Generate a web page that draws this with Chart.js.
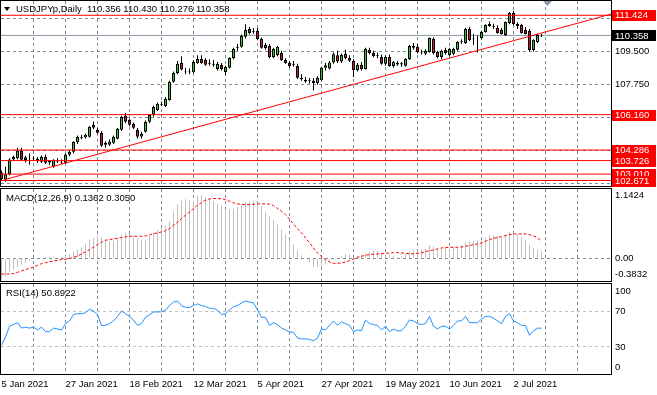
<!DOCTYPE html>
<html>
<head>
<meta charset="utf-8">
<title>USDJPYp, Daily</title>
<script src="https://cdn.jsdelivr.net/npm/chart.js@4.4.1/dist/chart.umd.min.js"></script>
<style>
  html, body { margin: 0; padding: 0; background: #fff; }
  #wrap { position: relative; width: 657px; height: 395px; overflow: hidden; background: #fff; }
  #wrap canvas { position: absolute; left: 0; }
  #mainChart { top: 0; }
  #macdChart { top: 187px; }
  #rsiChart { top: 283px; }
</style>
</head>
<body>
<div id="wrap">
  <canvas id="mainChart" width="657" height="187"></canvas>
  <canvas id="macdChart" width="657" height="96"></canvas>
  <canvas id="rsiChart" width="657" height="112"></canvas>
</div>
<script>
// USDJPYp diario, 5 ene 2021 - 13 jul 2021 (una vela por sesion)
const symbol = "USDJPYp";
const period = "Daily";

// etiquetas de fecha, una cada 16 velas
const dateLabels = ["5 Jan 2021", "27 Jan 2021", "18 Feb 2021", "12 Mar 2021", "5 Apr 2021",
  "27 Apr 2021", "19 May 2021", "10 Jun 2021", "2 Jul 2021"];

const openPrices = [
  103.10, 102.72, 103.00, 103.78, 103.85, 104.26, 103.76, 103.88, 103.85, 103.82,
  103.66, 103.93, 103.62, 103.40, 103.72, 103.66, 103.61, 104.03, 104.19, 104.70,
  104.98, 104.95, 104.99, 105.62, 105.36, 105.20, 104.56, 104.56, 104.67, 104.88,
  105.36, 106.10, 105.88, 105.67, 105.36, 105.00, 105.25, 105.78, 106.15, 106.41,
  106.73, 106.62, 106.94, 107.90, 108.37, 108.90, 108.45, 108.40, 108.42, 108.90,
  109.11, 109.05, 108.90, 108.85, 108.58, 108.80, 108.42, 108.64, 109.16, 109.70,
  109.75, 110.28, 110.70, 110.55, 110.60, 110.17, 109.69, 109.80, 109.22, 109.32,
  109.43, 109.06, 108.90, 108.85, 108.74, 108.11, 108.00, 107.95, 107.95, 107.84,
  108.00, 108.64, 108.60, 108.92, 109.30, 108.97, 109.38, 109.16, 109.01, 108.53,
  108.80, 108.58, 109.60, 109.43, 109.30, 109.22, 108.85, 109.22, 108.74, 108.90,
  108.82, 108.75, 109.11, 109.80, 109.75, 109.48, 109.38, 109.48, 110.17, 109.48,
  109.22, 109.58, 109.32, 109.38, 109.60, 110.01, 109.96, 110.70, 110.15, 110.20,
  110.22, 110.54, 110.86, 110.86, 110.75, 110.65, 110.38, 111.02, 111.55, 110.96,
  110.91, 110.65, 110.60, 109.59, 110.01, 110.356,
];
const highPrices = [
  103.20, 103.40, 103.85, 104.00, 104.40, 104.40, 103.98, 104.10, 103.95, 103.92,
  104.00, 104.05, 103.75, 103.80, 103.85, 103.80, 104.10, 104.25, 104.75, 105.05,
  105.10, 105.15, 105.55, 105.80, 105.45, 105.30, 104.75, 104.85, 105.05, 105.45,
  106.10, 106.25, 105.95, 105.75, 105.45, 105.25, 105.85, 106.20, 106.65, 106.80,
  106.85, 107.10, 107.95, 108.45, 109.00, 109.25, 108.65, 108.60, 109.05, 109.30,
  109.30, 109.15, 109.10, 109.05, 108.95, 108.90, 108.75, 109.20, 109.70, 109.90,
  110.40, 110.95, 110.80, 110.75, 110.75, 110.25, 109.95, 109.90, 109.70, 109.80,
  109.55, 109.15, 109.00, 109.00, 108.85, 108.30, 108.15, 108.10, 108.10, 108.20,
  108.70, 108.90, 109.00, 109.45, 109.55, 109.40, 109.60, 109.30, 109.10, 108.90,
  108.95, 109.70, 109.70, 109.55, 109.45, 109.35, 109.30, 109.35, 109.00, 109.00,
  108.95, 109.15, 109.85, 109.95, 109.90, 109.60, 109.62, 110.25, 110.25, 109.55,
  109.60, 109.70, 109.70, 109.70, 110.05, 110.15, 110.75, 110.80, 110.45, 110.35,
  110.60, 110.95, 111.10, 110.98, 110.90, 110.75, 111.10, 111.60, 111.66, 111.05,
  110.98, 110.80, 110.70, 110.15, 110.45, 110.430,
];
const lowPrices = [
  102.70, 102.60, 102.95, 103.70, 103.80, 103.70, 103.62, 103.50, 103.70, 103.60,
  103.60, 103.55, 103.50, 103.35, 103.60, 103.55, 103.55, 103.95, 104.10, 104.60,
  104.85, 104.90, 104.95, 105.40, 105.15, 104.45, 104.40, 104.50, 104.60, 104.85,
  105.30, 105.70, 105.55, 105.40, 104.90, 104.90, 105.20, 105.70, 106.05, 106.35,
  106.60, 106.55, 106.90, 107.85, 108.30, 108.50, 108.30, 108.30, 108.35, 108.85,
  108.85, 108.75, 108.75, 108.70, 108.50, 108.50, 108.25, 108.60, 109.10, 109.55,
  109.70, 110.20, 110.40, 110.45, 110.10, 109.65, 109.60, 109.15, 109.15, 109.25,
  109.00, 108.85, 108.65, 108.70, 108.05, 107.95, 107.85, 107.80, 107.45, 107.75,
  107.95, 108.50, 108.55, 108.85, 108.90, 108.90, 109.10, 108.95, 108.15, 108.45,
  108.50, 108.55, 109.35, 109.20, 109.15, 108.80, 108.75, 108.70, 108.65, 108.75,
  108.70, 108.70, 109.05, 109.60, 109.40, 109.35, 109.30, 109.45, 109.35, 109.15,
  109.10, 109.35, 109.25, 109.30, 109.55, 109.90, 109.90, 110.05, 109.85, 109.45,
  110.15, 110.50, 110.80, 110.70, 110.45, 110.40, 110.33, 110.95, 110.90, 110.70,
  110.45, 110.40, 109.50, 109.50, 109.95, 110.276,
];
const closePrices = [
  102.75, 103.00, 103.78, 103.92, 104.26, 103.77, 103.90, 103.85, 103.82, 103.75,
  103.93, 103.61, 103.70, 103.77, 103.68, 103.62, 104.03, 104.19, 104.72, 104.98,
  104.94, 105.09, 105.52, 105.46, 105.20, 104.51, 104.67, 104.72, 104.99, 105.41,
  106.04, 105.78, 105.62, 105.46, 104.99, 105.15, 105.78, 106.15, 106.57, 106.73,
  106.68, 107.00, 107.90, 108.37, 108.85, 108.55, 108.40, 108.45, 108.95, 109.11,
  108.90, 108.80, 108.85, 108.80, 108.85, 108.58, 108.69, 109.16, 109.64, 109.75,
  110.33, 110.65, 110.49, 110.60, 110.17, 109.70, 109.85, 109.22, 109.64, 109.75,
  109.06, 108.90, 108.74, 108.80, 108.11, 108.05, 107.92, 108.00, 107.84, 108.11,
  108.64, 108.78, 108.92, 109.36, 108.97, 109.32, 109.16, 109.01, 108.53, 108.80,
  108.58, 109.64, 109.43, 109.27, 109.27, 108.85, 109.22, 108.74, 108.95, 108.82,
  108.88, 109.11, 109.80, 109.70, 109.48, 109.45, 109.54, 110.22, 109.43, 109.22,
  109.54, 109.43, 109.64, 109.64, 110.01, 110.05, 110.70, 110.12, 110.20, 110.18,
  110.54, 110.91, 110.96, 110.82, 110.49, 110.43, 111.07, 111.54, 110.96, 110.86,
  110.49, 110.43, 109.59, 110.12, 110.38, 110.358,
];

// MACD(12,26,9): histograma (linea principal) y senal
const macdMain = [
  -0.3832, -0.33, -0.25, -0.20, -0.16, -0.12, -0.08, -0.04, -0.01, 0.01,
  0.02, 0.02, 0.03, 0.03, 0.02, 0.03, 0.04, 0.08, 0.12, 0.16,
  0.20, 0.26, 0.34, 0.37, 0.41, 0.38, 0.34, 0.31, 0.32, 0.36,
  0.42, 0.47, 0.44, 0.41, 0.37, 0.34, 0.34, 0.40, 0.46, 0.52,
  0.56, 0.60, 0.67, 0.85, 0.98, 1.05, 1.07, 1.05, 1.04, 1.13,
  1.1424, 1.11, 1.07, 1.04, 0.99, 0.95, 0.89, 0.89, 0.90, 0.93,
  0.98, 1.02, 1.02, 1.04, 1.01, 0.95, 0.85, 0.76, 0.70, 0.61,
  0.52, 0.43, 0.34, 0.26, 0.14, 0.05, -0.01, -0.07, -0.15, -0.16,
  -0.16, -0.10, -0.05, -0.02, -0.01, 0.04, 0.08, 0.07, 0.005, 0.04,
  0.07, 0.085, 0.127, 0.139, 0.139, 0.097, 0.067, 0.067, 0.048, 0.018,
  0.036, 0.067, 0.127, 0.158, 0.127, 0.170, 0.170, 0.236, 0.218, 0.170,
  0.170, 0.188, 0.158, 0.200, 0.200, 0.236, 0.297, 0.309, 0.309, 0.321,
  0.321, 0.382, 0.418, 0.418, 0.418, 0.382, 0.430, 0.479, 0.461, 0.430,
  0.382, 0.339, 0.248, 0.188, 0.158, 0.1362,
];
const macdSignal = [
  -0.285, -0.285, -0.285, -0.273, -0.255, -0.230, -0.206, -0.182, -0.158, -0.127,
  -0.097, -0.079, -0.061, -0.048, -0.036, -0.024, -0.018, -0.006, 0.018, 0.042,
  0.079, 0.115, 0.158, 0.200, 0.248, 0.291, 0.327, 0.339, 0.352, 0.364,
  0.376, 0.388, 0.400, 0.400, 0.400, 0.400, 0.406, 0.424, 0.448, 0.461,
  0.479, 0.503, 0.539, 0.600, 0.655, 0.721, 0.782, 0.842, 0.903, 0.964,
  1.012, 1.055, 1.079, 1.085, 1.085, 1.079, 1.067, 1.036, 1.006, 0.988,
  0.976, 0.976, 0.976, 0.982, 0.988, 0.988, 0.988, 0.982, 0.958, 0.903,
  0.855, 0.794, 0.709, 0.624, 0.539, 0.461, 0.370, 0.279, 0.188, 0.097,
  0.030, -0.024, -0.067, -0.091, -0.091, -0.085, -0.067, -0.042, -0.012, 0.018,
  0.036, 0.055, 0.067, 0.073, 0.079, 0.085, 0.091, 0.097, 0.103, 0.103,
  0.097, 0.091, 0.085, 0.085, 0.091, 0.097, 0.121, 0.139, 0.152, 0.170,
  0.188, 0.194, 0.200, 0.200, 0.200, 0.206, 0.218, 0.230, 0.248, 0.261,
  0.279, 0.309, 0.339, 0.364, 0.376, 0.394, 0.412, 0.430, 0.442, 0.442,
  0.442, 0.442, 0.430, 0.406, 0.370, 0.305,
];

// RSI(14)
const rsiValues = [
  32, 41, 53, 55, 57, 51, 52, 51, 52, 49,
  52, 47, 47, 51, 50, 49, 56, 59, 66, 67,
  67, 68, 72, 70, 66, 54, 54, 56, 59, 64,
  70, 67, 64, 60, 54, 56, 63, 66, 69, 69,
  69, 71, 76, 80, 81, 76, 74, 74, 76, 78,
  76, 75, 73, 73, 71, 66, 67, 71, 75, 76,
  79, 81, 80, 79, 71, 63, 63, 54, 57, 55,
  51, 49, 47, 46, 40, 39, 39, 38.5, 37, 40,
  50, 49, 54, 59, 54, 58, 56, 54, 47, 49,
  48, 60, 56, 55, 54, 49, 53, 47, 50, 48,
  48, 53, 60, 59, 56, 55, 56, 64, 53, 50,
  53, 53, 50, 54, 59, 59, 64, 57, 57, 57,
  61, 64, 64, 62, 59, 56, 64, 67, 59, 57,
  54, 54, 43, 48, 51, 50.8922,
];
const rsiLevels = [30, 70];

// escala de precios y lineas horizontales dibujadas en el grafico
const priceTicks = [102.5, 104.25, 106.0, 107.75, 109.5, 111.25];
const levelPrices = [111.424, 106.16, 104.286, 103.726, 103.01, 102.671];
const trendBars = [0.5, 152.4];
const trendPrices = [102.7, 111.49];

// --- estilo y geometria ---
const FONT = "9.5px 'Liberation Sans', Arial, sans-serif";
const GRID_COLOR = "#7f8b97";
const LEVEL_COLOR = "#ff0000";
const BULL = "#35c235";
const BEAR = "#c8193c";
const AXIS_W = 46;
const X_MIN = -0.125; // 4 px por vela
const X_MAX = 152.375;
const LABEL_EVERY = 16;
const gridBars = [];
for (let b = 0; b <= 144; b += 8) gridBars.push(b);

Chart.defaults.font.family = "'Liberation Sans', Arial, sans-serif";
Chart.defaults.font.size = 9.5;
Chart.defaults.color = "#000";
Chart.defaults.animation = false;
Chart.defaults.plugins.legend.display = false;
Chart.defaults.plugins.tooltip.enabled = false;

const lastIdx = closePrices.length - 1;
const bars = closePrices.map((_, i) => i);
const none = "rgba(0,0,0,0)";

// sin margenes extra: las etiquetas pueden salirse un poco del area
function noPadding(scale) {
  scale.paddingTop = 0;
  scale.paddingBottom = 0;
  scale.paddingLeft = 0;
  scale.paddingRight = 0;
}

function buildXScale(withLabels) {
  return {
    type: "linear",
    min: X_MIN,
    max: X_MAX,
    offset: false,
    afterBuildTicks: (scale) => {
      scale.ticks = gridBars.map((v) => ({ value: v }));
    },
    afterFit: (scale) => {
      scale.height = withLabels ? 21 : 0;
      noPadding(scale);
    },
    ticks: {
      display: withLabels,
      autoSkip: false,
      maxRotation: 0,
      minRotation: 0,
      align: "start",
      padding: 5,
      callback: (value) =>
        value % LABEL_EVERY === 0 ? dateLabels[value / LABEL_EVERY] || "" : "",
    },
    grid: {
      offset: false,
      drawTicks: false,
      color: (c) => (c.tick && c.tick.value === 0 ? none : GRID_COLOR),
    },
    border: { display: false, dash: [3, 3] },
  };
}

function rightAxisFit(scale) {
  scale.width = AXIS_W;
  noPadding(scale);
}

// marco negro alrededor de cada panel
const panelFrame = {
  id: "panelFrame",
  afterDraw(chart) {
    const { ctx, chartArea: a } = chart;
    ctx.save();
    ctx.strokeStyle = "#000";
    ctx.lineWidth = 1;
    ctx.strokeRect(Math.round(a.left) - 0.5, Math.round(a.top) - 0.5,
      Math.round(a.right - a.left) + 1, Math.round(a.bottom - a.top) + 1);
    ctx.restore();
  },
};

function drawPriceBox(ctx, x0, y, text, bg) {
  ctx.fillStyle = bg;
  ctx.fillRect(x0 + 1, Math.round(y) - 5, 44, 11);
  ctx.fillStyle = "#fff";
  ctx.textAlign = "left";
  ctx.textBaseline = "middle";
  ctx.fillText(text, x0 + 4, y + 0.5);
}

function panelLabel(text) {
  return {
    id: "panelLabel",
    afterDraw(chart) {
      const { ctx, chartArea: a } = chart;
      ctx.save();
      ctx.font = FONT;
      ctx.fillStyle = "#000";
      ctx.textBaseline = "middle";
      ctx.fillText(text, a.left + 5, a.top + 9);
      ctx.restore();
    },
  };
}

// titulo, marcas de precio y marcador de desplazamiento
const mainOverlay = {
  id: "mainOverlay",
  afterDraw(chart) {
    const { ctx, chartArea: a, scales } = chart;
    ctx.save();
    ctx.font = FONT;

    ctx.fillStyle = "#000";
    ctx.beginPath();
    ctx.moveTo(4, 7);
    ctx.lineTo(10, 7);
    ctx.lineTo(7, 11);
    ctx.closePath();
    ctx.fill();
    ctx.textBaseline = "middle";
    ctx.fillText(`${symbol},${period}  ${openPrices[lastIdx].toFixed(3)} ${highPrices[lastIdx].toFixed(3)} ` +
      `${lowPrices[lastIdx].toFixed(3)} ${closePrices[lastIdx].toFixed(3)}`, 16, 9.5);

    ctx.fillStyle = "#8a96a3";
    ctx.beginPath();
    ctx.moveTo(a.right - 68, a.top);
    ctx.lineTo(a.right - 59, a.top);
    ctx.lineTo(a.right - 63.5, a.top + 5);
    ctx.closePath();
    ctx.fill();

    const bid = closePrices[lastIdx];
    drawPriceBox(ctx, a.right, scales.y.getPixelForValue(bid), bid.toFixed(3), "#000");
    levelPrices.forEach((p) => {
      drawPriceBox(ctx, a.right, scales.y.getPixelForValue(p), p.toFixed(3), LEVEL_COLOR);
    });
    ctx.restore();
  },
};

// --- grafico de velas ---
const flatLine = (value, color) => ({
  type: "line",
  data: [{ x: X_MIN, y: value }, { x: X_MAX, y: value }],
  borderColor: color,
  borderWidth: 1,
  pointRadius: 0,
});

const mainDatasets = [
  {
    type: "line",
    data: trendBars.map((b, i) => ({ x: b, y: trendPrices[i] })),
    borderColor: LEVEL_COLOR,
    borderWidth: 1,
    pointRadius: 0,
  },
  ...levelPrices.map((p) => flatLine(p, LEVEL_COLOR)),
  {
    label: "cuerpo",
    data: bars.map((i) => ({
      x: i,
      y: [Math.min(openPrices[i], closePrices[i]), Math.max(openPrices[i], closePrices[i])],
    })),
    backgroundColor: bars.map((i) => (closePrices[i] >= openPrices[i] ? BULL : BEAR)),
    borderColor: "#000",
    borderWidth: 1,
    borderSkipped: false,
    inflateAmount: 0,
    grouped: false,
    barPercentage: 1,
    categoryPercentage: 1,
    maxBarThickness: 3,
  },
  {
    label: "mecha",
    data: bars.map((i) => ({ x: i, y: [lowPrices[i], highPrices[i]] })),
    backgroundColor: "#000",
    borderWidth: 0,
    inflateAmount: 0,
    grouped: false,
    barPercentage: 1,
    categoryPercentage: 1,
    maxBarThickness: 1,
  },
  flatLine(closePrices[lastIdx], "#8a96a3"),
];

const configMain = {
  type: "bar",
  data: { datasets: mainDatasets },
  options: {
    responsive: false,
    events: [],
    layout: { padding: { left: 1, top: 1, bottom: 1, right: 0 } },
    scales: {
      x: buildXScale(false),
      y: {
        position: "right",
        min: 102.38,
        max: 112.18,
        afterBuildTicks: (scale) => {
          scale.ticks = priceTicks.map((v) => ({ value: v }));
        },
        afterFit: rightAxisFit,
        ticks: { padding: 4, callback: (v) => Number(v).toFixed(3) },
        grid: { drawTicks: false, color: GRID_COLOR },
        border: { display: false, dash: [3, 3] },
      },
    },
  },
  plugins: [panelFrame, mainOverlay],
};

// --- MACD ---
const macdMax = Math.max(...macdMain, ...macdSignal);
const macdMin = Math.min(...macdMain, ...macdSignal);

const configMacd = {
  type: "bar",
  data: {
    datasets: [
      {
        type: "line",
        data: bars.map((i) => ({ x: i, y: macdSignal[i] })),
        borderColor: "#ff0000",
        borderWidth: 1,
        borderDash: [3, 2],
        pointRadius: 0,
      },
      {
        data: bars.map((i) => ({ x: i, y: macdMain[i] })),
        backgroundColor: "#c0c0c0",
        borderWidth: 0,
        inflateAmount: 0,
        grouped: false,
        barPercentage: 1,
        categoryPercentage: 1,
        maxBarThickness: 1,
      },
    ],
  },
  options: {
    responsive: false,
    events: [],
    layout: { padding: { left: 1, top: 2, bottom: 2, right: 0 } },
    scales: {
      x: buildXScale(false),
      y: {
        position: "right",
        min: -0.412,
        max: 1.258,
        // la etiqueta del minimo queda dentro del panel, como en el terminal
        afterBuildTicks: (scale) => {
          scale.ticks = [{ value: macdMax }, { value: 0 }, { value: -0.285 }];
        },
        afterFit: rightAxisFit,
        ticks: {
          padding: 4,
          callback: (v) => (v === 0 ? "0.00" : v > 0 ? macdMax.toFixed(4) : macdMin.toFixed(4)),
        },
        grid: { drawTicks: false, color: (c) => (c.tick && c.tick.value === 0 ? GRID_COLOR : none) },
        border: { display: false, dash: [3, 3] },
      },
    },
  },
  plugins: [panelFrame, panelLabel(`MACD(12,26,9) ${macdMain[lastIdx].toFixed(4)} ${macdSignal[lastIdx].toFixed(4)}`)],
};

// --- RSI ---
const configRsi = {
  type: "line",
  data: {
    datasets: [
      {
        data: bars.map((i) => ({ x: i, y: rsiValues[i] })),
        borderColor: "#1e90ff",
        borderWidth: 1,
        pointRadius: 0,
      },
    ],
  },
  options: {
    responsive: false,
    events: [],
    layout: { padding: { left: 1, top: 1, bottom: 0, right: 0 } },
    scales: {
      x: buildXScale(true),
      y: {
        position: "right",
        min: 0,
        max: 100,
        // 0 y 100 se escriben hacia dentro del panel
        afterBuildTicks: (scale) => {
          scale.ticks = [7.5, ...rsiLevels, 92].map((v) => ({ value: v }));
        },
        afterFit: rightAxisFit,
        ticks: {
          padding: 4,
          callback: (v) => (v > 90 ? "100" : v < 10 ? "0" : String(v)),
        },
        grid: {
          drawTicks: false,
          color: (c) => (c.tick && rsiLevels.includes(c.tick.value) ? "#c0c0c0" : none),
        },
        border: { display: false, dash: [3, 3] },
      },
    },
  },
  plugins: [panelFrame, panelLabel(`RSI(14) ${rsiValues[lastIdx].toFixed(4)}`)],
};

const mainChart = new Chart(document.getElementById("mainChart"), configMain);
const macdChart = new Chart(document.getElementById("macdChart"), configMacd);
const rsiChart = new Chart(document.getElementById("rsiChart"), configRsi);
</script>
</body>
</html>
